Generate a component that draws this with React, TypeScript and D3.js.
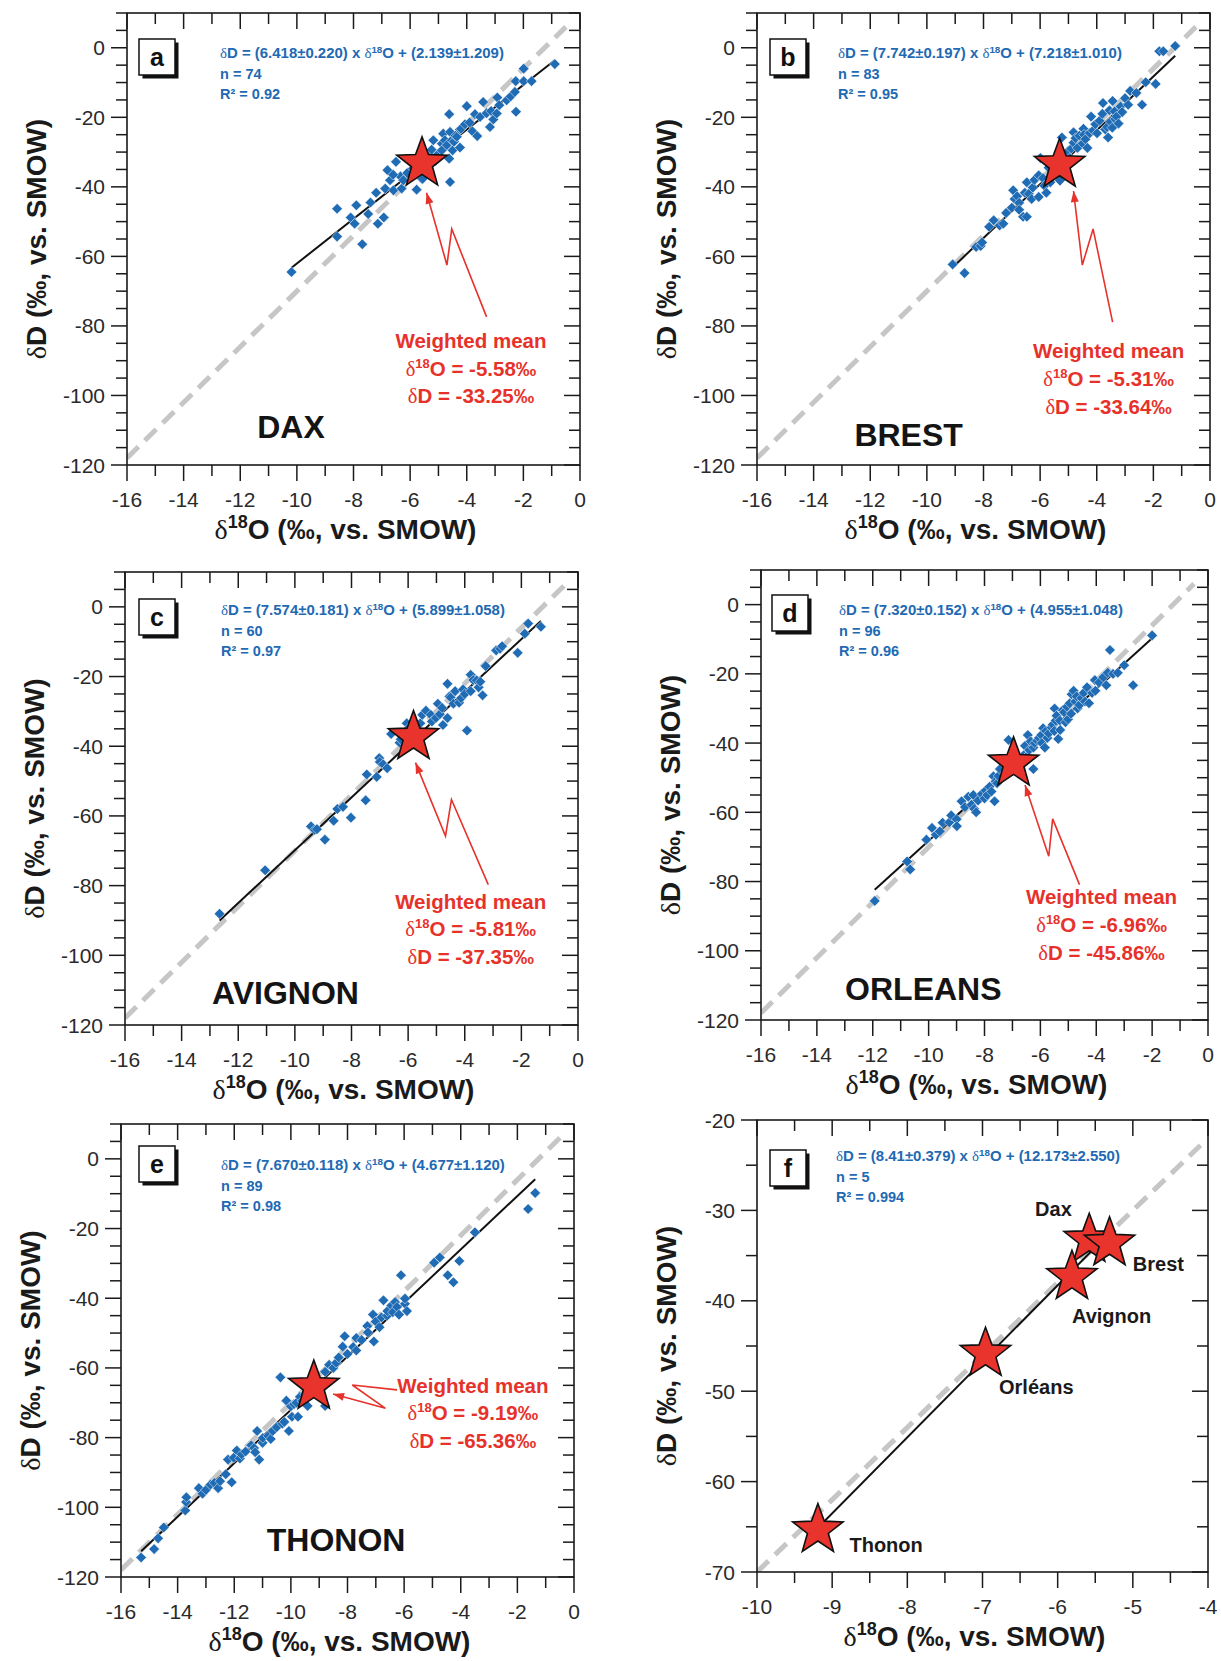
import React, { useRef, useEffect } from "react";
import * as d3 from "d3";

// ---- data (δ18O, δD) ----
const daxPoints = [
  [-10.19, -64.5], [-8.58, -46.3], [-8.58, -54.3], [-8.1, -48.8], [-7.96, -50.6], [-7.9, -45.3],
  [-7.69, -56.5], [-7.48, -47.8], [-7.14, -50.6], [-6.93, -48.8], [-7.2, -41.7], [-7.4, -44.5],
  [-6.8, -35.2], [-6.71, -38.1], [-6.88, -40.5], [-6.59, -41.0], [-6.34, -37.0], [-6.5, -32.8],
  [-6.3, -40.5], [-6.24, -38.1], [-6.1, -36.0], [-6.6, -36.5], [-5.9, -34.7], [-5.77, -40.8],
  [-5.7, -35.5], [-5.6, -37.6], [-5.56, -37.7], [-5.45, -35.5], [-5.3, -30.4], [-5.24, -29.3],
  [-5.18, -26.6], [-5.1, -32.5], [-5.0, -30.5], [-4.88, -27.6], [-4.88, -29.5], [-4.83, -24.7],
  [-4.77, -26.6], [-4.7, -28.0], [-4.62, -19.1], [-4.62, -31.9], [-4.59, -24.2], [-4.59, -38.6],
  [-4.53, -26.6], [-4.5, -29.5], [-4.45, -27.0], [-4.4, -25.3], [-4.35, -25.6], [-4.24, -23.5],
  [-4.24, -28.7], [-4.2, -23.3], [-4.06, -22.0], [-4.0, -16.8], [-3.9, -21.5], [-3.8, -24.0],
  [-3.71, -19.1], [-3.63, -25.4], [-3.53, -19.9], [-3.42, -15.6], [-3.3, -18.8], [-3.18, -22.8],
  [-3.14, -18.2], [-3.06, -20.6], [-2.94, -18.9], [-2.92, -14.3], [-2.85, -16.5], [-2.59, -15.1],
  [-2.45, -14.0], [-2.3, -12.7], [-2.26, -18.4], [-2.27, -9.6], [-1.99, -6.0], [-1.99, -9.6],
  [-1.71, -9.6], [-0.89, -4.7],
];

const brestPoints = [
  [-9.09, -62.3], [-8.67, -64.8], [-8.26, -57.3], [-8.1, -57.0], [-8.05, -56.0], [-7.8, -51.5],
  [-7.64, -49.6], [-7.43, -51.1], [-7.3, -50.6], [-7.2, -47.5], [-7.0, -46.0], [-6.95, -41.0],
  [-6.9, -43.5], [-6.81, -42.7], [-6.74, -44.6], [-6.74, -46.6], [-6.6, -48.6], [-6.47, -48.6],
  [-6.54, -41.7], [-6.47, -38.7], [-6.4, -42.0], [-6.3, -43.5], [-6.26, -40.2], [-6.2, -38.0],
  [-6.05, -42.9], [-6.05, -36.7], [-5.99, -31.7], [-5.9, -37.5], [-5.85, -39.7], [-5.78, -41.7],
  [-5.7, -34.5], [-5.64, -38.7], [-5.6, -36.5], [-5.5, -35.7], [-5.4, -33.5], [-5.3, -38.2],
  [-5.23, -25.8], [-5.23, -32.7], [-5.1, -30.5], [-5.02, -29.8], [-4.95, -31.7], [-4.9, -29.0],
  [-4.82, -27.3], [-4.82, -24.3], [-4.75, -26.0], [-4.68, -28.8], [-4.61, -25.3], [-4.5, -27.5],
  [-4.47, -23.3], [-4.45, -25.0], [-4.4, -26.3], [-4.33, -28.8], [-4.25, -24.5], [-4.2, -19.8],
  [-4.13, -23.8], [-4.05, -22.0], [-3.99, -24.6], [-3.9, -21.0], [-3.8, -19.0], [-3.78, -15.9],
  [-3.7, -23.5], [-3.64, -22.8], [-3.6, -25.8], [-3.55, -18.0], [-3.51, -21.3], [-3.45, -23.0],
  [-3.44, -15.3], [-3.37, -18.3], [-3.35, -20.5], [-3.3, -19.8], [-3.23, -21.8], [-3.16, -16.9],
  [-3.1, -18.5], [-3.0, -14.5], [-2.89, -16.4], [-2.82, -12.4], [-2.6, -13.0], [-2.4, -16.4],
  [-2.27, -9.9], [-1.92, -10.4], [-1.79, -1.0], [-1.65, -1.0], [-1.23, 0.5],
];

const avignonPoints = [
  [-12.66, -88.1], [-11.05, -75.6], [-9.43, -63.0], [-9.3, -64.0], [-9.22, -63.8], [-8.94, -66.8],
  [-8.63, -61.4], [-8.5, -58.0], [-8.3, -57.4], [-8.02, -60.5], [-7.5, -55.5], [-7.46, -48.1],
  [-7.11, -48.8], [-7.02, -43.4], [-7.0, -44.5], [-6.88, -45.2], [-6.74, -46.3], [-6.6, -36.5],
  [-6.3, -39.0], [-6.26, -38.0], [-6.05, -33.4], [-6.0, -35.0], [-5.85, -39.1], [-5.71, -36.5],
  [-5.57, -33.4], [-5.5, -31.0], [-5.37, -29.8], [-5.2, -31.0], [-5.16, -32.9], [-5.02, -31.9],
  [-4.95, -27.8], [-4.88, -30.8], [-4.8, -29.0], [-4.77, -33.9], [-4.61, -22.1], [-4.61, -31.9],
  [-4.54, -25.7], [-4.5, -26.0], [-4.4, -27.8], [-4.34, -24.2], [-4.2, -27.5], [-4.13, -26.2],
  [-4.06, -23.7], [-4.0, -25.0], [-3.92, -35.5], [-3.79, -19.5], [-3.79, -24.2], [-3.7, -21.0],
  [-3.58, -21.1], [-3.51, -23.1], [-3.45, -21.5], [-3.37, -25.4], [-3.26, -17.0], [-2.89, -12.5],
  [-2.75, -12.0], [-2.68, -11.3], [-2.13, -13.2], [-1.88, -7.7], [-1.76, -4.8], [-1.31, -5.7],
];

const orleansPoints = [
  [-11.93, -85.6], [-10.77, -74.2], [-10.66, -76.5], [-10.08, -67.9], [-9.88, -64.5], [-9.74, -66.5],
  [-9.6, -65.5], [-9.5, -63.0], [-9.26, -62.9], [-9.19, -60.9], [-9.0, -62.0], [-8.99, -64.0],
  [-8.82, -56.8], [-8.7, -58.5], [-8.58, -55.5], [-8.47, -57.8], [-8.4, -55.0], [-8.37, -59.0],
  [-8.3, -60.0], [-8.23, -56.6], [-8.1, -54.7], [-8.0, -56.0], [-7.96, -53.7], [-7.9, -55.0],
  [-7.82, -52.6], [-7.75, -54.0], [-7.68, -49.6], [-7.64, -56.8], [-7.6, -51.0], [-7.55, -51.6],
  [-7.5, -49.5], [-7.45, -47.5], [-7.3, -46.0], [-7.25, -48.5], [-7.14, -39.1], [-7.1, -45.0],
  [-6.9, -44.5], [-6.73, -47.5], [-6.6, -43.5], [-6.55, -40.8], [-6.5, -44.0], [-6.45, -37.7],
  [-6.4, -42.0], [-6.35, -39.5], [-6.25, -47.5], [-6.25, -41.3], [-6.2, -40.0], [-6.11, -39.3],
  [-6.05, -38.5], [-5.97, -37.7], [-5.95, -40.0], [-5.9, -35.7], [-5.84, -41.3], [-5.8, -36.5],
  [-5.75, -38.5], [-5.7, -37.2], [-5.6, -35.5], [-5.56, -34.7], [-5.5, -36.5], [-5.49, -30.0],
  [-5.45, -33.5], [-5.42, -32.1], [-5.36, -38.8], [-5.3, -33.5], [-5.29, -36.2], [-5.2, -30.5],
  [-5.15, -31.1], [-5.1, -34.0], [-5.05, -29.5], [-5.01, -33.1], [-4.95, -28.5], [-4.9, -31.5],
  [-4.88, -25.9], [-4.81, -24.9], [-4.75, -28.0], [-4.7, -26.5], [-4.67, -30.0], [-4.6, -29.0],
  [-4.53, -27.0], [-4.45, -25.5], [-4.4, -28.0], [-4.33, -23.9], [-4.26, -28.5], [-4.15, -25.5],
  [-4.05, -21.8], [-4.03, -24.9], [-3.9, -22.5], [-3.75, -21.0], [-3.64, -23.3], [-3.59, -19.7],
  [-3.51, -13.1], [-3.4, -20.0], [-3.23, -19.7], [-3.0, -17.5], [-2.68, -23.3], [-2.0, -8.9],
];

const thononPoints = [
  [-15.29, -114.4], [-14.83, -112.0], [-14.69, -108.9], [-14.49, -105.8], [-13.73, -100.9], [-13.7, -98.5],
  [-13.69, -97.1], [-13.25, -94.5], [-13.12, -96.1], [-13.0, -95.0], [-12.84, -93.5], [-12.7, -93.0],
  [-12.57, -94.5], [-12.5, -92.5], [-12.3, -90.5], [-12.22, -86.3], [-12.09, -92.8], [-12.02, -85.8],
  [-11.91, -83.7], [-11.8, -86.0], [-11.74, -84.8], [-11.6, -84.0], [-11.4, -82.2], [-11.3, -83.0],
  [-11.26, -84.2], [-11.19, -78.1], [-11.12, -86.3], [-11.0, -81.5], [-10.99, -80.1], [-10.8, -79.5],
  [-10.71, -80.4], [-10.64, -78.1], [-10.5, -77.0], [-10.37, -62.7], [-10.3, -76.0], [-10.23, -75.5],
  [-10.16, -69.4], [-10.07, -78.1], [-10.0, -71.0], [-9.96, -74.0], [-9.89, -70.4], [-9.8, -70.0],
  [-9.75, -74.0], [-9.68, -68.3], [-9.6, -69.5], [-9.5, -67.5], [-9.41, -70.9], [-9.0, -66.0],
  [-8.9, -64.0], [-8.79, -70.9], [-8.79, -61.1], [-8.65, -59.1], [-8.5, -60.0], [-8.4, -58.5],
  [-8.31, -57.0], [-8.17, -53.9], [-8.1, -50.9], [-8.0, -56.0], [-7.8, -54.0], [-7.69, -55.0],
  [-7.69, -51.4], [-7.5, -52.0], [-7.3, -48.0], [-7.28, -49.8], [-7.1, -44.7], [-7.07, -52.4],
  [-7.0, -46.7], [-6.87, -48.3], [-6.8, -45.5], [-6.73, -40.6], [-6.6, -45.0], [-6.59, -43.7],
  [-6.45, -42.1], [-6.4, -44.0], [-6.32, -41.1], [-6.25, -42.5], [-6.18, -44.7], [-6.11, -33.4],
  [-5.97, -41.6], [-5.97, -40.1], [-5.9, -43.7], [-4.94, -29.8], [-4.74, -28.3], [-4.46, -33.4],
  [-4.26, -35.4], [-4.05, -29.3], [-3.5, -21.1], [-1.62, -14.4], [-1.37, -9.8],
];

const stationNames = ["Dax", "Brest", "Avignon", "Orléans", "Thonon"];
const cityTitles = ["DAX", "BREST", "AVIGNON", "ORLEANS", "THONON"];
const meanO = [-5.58, -5.31, -5.81, -6.96, -9.19];
const meanD = [-33.25, -33.64, -37.35, -45.86, -65.36];

const panelLetters = ["a", "b", "c", "d", "e", "f"];
const slopes = [6.418, 7.742, 7.574, 7.32, 7.67, 8.41];
const slopeLabels = ["6.418", "7.742", "7.574", "7.320", "7.670", "8.41"];
const slopeErrors = ["0.220", "0.197", "0.181", "0.152", "0.118", "0.379"];
const intercepts = [2.139, 7.218, 5.899, 4.955, 4.677, 12.173];
const interceptLabels = ["2.139", "7.218", "5.899", "4.955", "4.677", "12.173"];
const interceptErrors = ["1.209", "1.010", "1.058", "1.048", "1.120", "2.550"];
const nValues = [74, 83, 60, 96, 89, 5];
const r2Values = ["0.92", "0.95", "0.97", "0.96", "0.98", "0.994"];

// global meteoric water line (reference)
const gmwlSlope = 8;
const gmwlIntercept = 10;
const gmwlRanges = [[-16, -0.5], [-16, -0.5], [-16, -0.5], [-16, -0.5], [-16, -0.4], [-10, -4.1]];

// annotation anchors (data units)
const meanTextAt = [[-3.85, -86.3], [-3.58, -89.3], [-3.79, -86.6], [-3.81, -86.6], [-3.57, -67.1]];
const cityTitleAt = [[-11.4, -112.3], [-12.56, -114.6], [-12.93, -114.1], [-12.99, -114.3], [-10.85, -112.5]];
const arrowPaths = [
  [[-3.3, -77.4], [-4.53, -52.1], [-4.7, -62.5], [-5.42, -41.7]],
  [[-3.44, -78.9], [-4.13, -52.1], [-4.51, -62.5], [-4.82, -41.2]],
  [[-3.17, -79.7], [-4.47, -55.3], [-4.68, -65.8], [-5.74, -44.7]],
  [[-4.6, -80.9], [-5.56, -61.9], [-5.7, -72.7], [-6.55, -52.1]],
  [[-6.25, -66.3], [-7.83, -64.9], [-6.66, -71.6], [-8.51, -67.5]],
];
const stationLabelAt = [[-6.3, -30.67], [-5.0, -36.7], [-5.81, -42.5], [-6.78, -50.3], [-8.77, -67.8]];

// layout (pixels)
const frames = [
  { x: 127, y: 13, w: 453, h: 452 },
  { x: 757, y: 13, w: 453, h: 452 },
  { x: 125, y: 572, w: 453, h: 453 },
  { x: 761, y: 570, w: 447, h: 450 },
  { x: 121, y: 1124, w: 453, h: 453 },
  { x: 757, y: 1120, w: 451, h: 452 },
];
const boxOffsets = [[12, 26], [13, 26], [14, 27], [11, 25], [18, 22], [13, 30]];
const eqOffsets = [[93, 45], [81, 45], [96, 43], [78, 45], [100, 46], [79, 41]];

const SANS = "'Liberation Sans', Arial, Helvetica, sans-serif";
const SERIF = "'Liberation Serif', 'Times New Roman', serif";
const BLUE = "#2169b3";
const RED = "#e6322b";

const starPath = (cx: number, cy: number, R: number, r: number) => {
  const pts: [number, number][] = d3.range(10).map((k) => {
    const a = -Math.PI / 2 + (k * Math.PI) / 5;
    const rad = k % 2 === 0 ? R : r;
    return [cx + rad * Math.cos(a), cy + rad * Math.sin(a)];
  });
  return "M" + pts.map((p) => p.join(",")).join("L") + "Z";
};

const App = () => {
  const chartRef = useRef<SVGSVGElement>(null);

  useEffect(() => {
    const svg = d3.select(chartRef.current);
    svg.selectAll("*").remove();
    const defs = svg.append("defs");
    const cityPoints = [daxPoints, brestPoints, avignonPoints, orleansPoints, thononPoints];
    const diamondType = (d3 as any).symbolDiamond2;

    panelLetters.forEach((letter, i) => {
      const fr = frames[i];
      const summary = i === 5;
      const x = d3.scaleLinear().domain(summary ? [-10, -4] : [-16, 0]).range([fr.x, fr.x + fr.w]);
      const y = d3.scaleLinear().domain(summary ? [-70, -20] : [-120, 10]).range([fr.y + fr.h, fr.y]);
      const g = svg.append("g");

      defs.append("clipPath").attr("id", `clip-${letter}`)
        .append("rect").attr("x", fr.x).attr("y", fr.y).attr("width", fr.w).attr("height", fr.h);
      const plot = g.append("g").attr("clip-path", `url(#clip-${letter})`);

      // GMWL dashed line
      const gr = gmwlRanges[i];
      plot.append("line")
        .attr("x1", x(gr[0])).attr("y1", y(gmwlSlope * gr[0] + gmwlIntercept))
        .attr("x2", x(gr[1])).attr("y2", y(gmwlSlope * gr[1] + gmwlIntercept))
        .attr("stroke", "#c6c6c6").attr("stroke-width", 5).attr("stroke-dasharray", "16 9");

      // regression line
      const xs = summary ? meanO : cityPoints[i].map((d) => d[0]);
      const [xmin, xmax] = d3.extent(xs) as [number, number];
      plot.append("line")
        .attr("x1", x(xmin)).attr("y1", y(slopes[i] * xmin + intercepts[i]))
        .attr("x2", x(xmax)).attr("y2", y(slopes[i] * xmax + intercepts[i]))
        .attr("stroke", "#111").attr("stroke-width", 2);

      if (!summary) {
        const sym = d3.symbol(diamondType || d3.symbolSquare).size(diamondType ? 72 : 56)();
        plot.selectAll("path.pt").data(cityPoints[i]).join("path")
          .attr("class", "pt")
          .attr("d", sym)
          .attr("transform", (d) => `translate(${x(d[0])},${y(d[1])})${diamondType ? "" : " rotate(45)"}`)
          .attr("fill", "#1f6bb4").attr("stroke", "#ffffff").attr("stroke-width", 0.5);

        // arrow
        const ap = arrowPaths[i].map((p) => [x(p[0]), y(p[1])] as [number, number]);
        g.append("path").attr("d", d3.line()(ap)).attr("fill", "none")
          .attr("stroke", RED).attr("stroke-width", 1.6);
        const tip = ap[ap.length - 1];
        const prev = ap[ap.length - 2];
        const ang = Math.atan2(tip[1] - prev[1], tip[0] - prev[0]);
        const L = 11, W = 4;
        const bx = tip[0] - L * Math.cos(ang), by = tip[1] - L * Math.sin(ang);
        g.append("path")
          .attr("d", `M${tip[0]},${tip[1]}L${bx - W * Math.sin(ang)},${by + W * Math.cos(ang)}L${bx + W * Math.sin(ang)},${by - W * Math.cos(ang)}Z`)
          .attr("fill", RED);

        // star
        g.append("path").attr("d", starPath(x(meanO[i]), y(meanD[i]), 26.5, 11))
          .attr("fill", "#e8342c").attr("stroke", "#111").attr("stroke-width", 1.6);

        // weighted mean text
        const mx = x(meanTextAt[i][0]), my = y(meanTextAt[i][1]);
        const mt = g.append("g").attr("font-family", SANS).attr("font-weight", "bold")
          .attr("font-size", 20.5).attr("fill", RED).attr("text-anchor", "middle");
        mt.append("text").attr("x", mx).attr("y", my).text("Weighted mean");
        const l2 = mt.append("text").attr("x", mx).attr("y", my + 27.8);
        l2.append("tspan").attr("font-family", SERIF).attr("font-weight", "normal").text("δ");
        l2.append("tspan").attr("font-size", 13).attr("dy", -8).text("18");
        l2.append("tspan").attr("dy", 8).text(`O = ${meanO[i].toFixed(2)}‰`);
        const l3 = mt.append("text").attr("x", mx).attr("y", my + 55.6);
        l3.append("tspan").attr("font-family", SERIF).attr("font-weight", "normal").text("δ");
        l3.append("tspan").text(`D = ${meanD[i].toFixed(2)}‰`);

        // city title
        g.append("text").attr("x", x(cityTitleAt[i][0])).attr("y", y(cityTitleAt[i][1]))
          .attr("font-family", SANS).attr("font-weight", "bold").attr("font-size", 32)
          .attr("fill", "#141414").text(cityTitles[i]);
      } else {
        meanO.forEach((mo, k) => {
          g.append("path").attr("d", starPath(x(mo), y(meanD[k]), 26.5, 11))
            .attr("fill", "#e8342c").attr("stroke", "#111").attr("stroke-width", 1.6);
        });
        stationNames.forEach((nm, k) => {
          g.append("text").attr("x", x(stationLabelAt[k][0])).attr("y", y(stationLabelAt[k][1]))
            .attr("font-family", SANS).attr("font-weight", "bold").attr("font-size", 20)
            .attr("fill", "#1a1a1a").text(nm);
        });
      }

      // frame
      g.append("rect").attr("x", fr.x).attr("y", fr.y).attr("width", fr.w).attr("height", fr.h)
        .attr("fill", "none").attr("stroke", "#1a1a1a").attr("stroke-width", 1.6);

      // ticks
      const xTicks = summary ? d3.range(-10, -3.99, 0.5) : d3.range(-16, 0.01, 1);
      const yTicks = summary ? d3.range(-70, -19.99, 5) : d3.range(-120, 10.01, 5);
      const xMajor = (v: number) => (summary ? Math.abs(v - Math.round(v)) < 1e-6 : Math.round(v) % 2 === 0);
      const yMajor = (v: number) => (summary ? Math.round(v) % 10 === 0 : Math.round(v) % 20 === 0);
      const tg = g.append("g").attr("stroke", "#1a1a1a").attr("stroke-width", 1.5);
      const bottom = fr.y + fr.h, right = fr.x + fr.w;
      xTicks.forEach((v) => {
        const len = xMajor(v) ? 16 : 11;
        tg.append("line").attr("x1", x(v)).attr("x2", x(v)).attr("y1", bottom).attr("y2", bottom + len);
        tg.append("line").attr("x1", x(v)).attr("x2", x(v)).attr("y1", fr.y).attr("y2", fr.y + len);
      });
      yTicks.forEach((v) => {
        const len = yMajor(v) ? 16 : 11;
        tg.append("line").attr("x1", fr.x - len).attr("x2", fr.x).attr("y1", y(v)).attr("y2", y(v));
        tg.append("line").attr("x1", right - len).attr("x2", right).attr("y1", y(v)).attr("y2", y(v));
      });
      const lg = g.append("g").attr("font-family", SANS).attr("font-size", 21).attr("fill", "#2a2a2a");
      xTicks.filter(xMajor).forEach((v) => {
        lg.append("text").attr("x", x(v)).attr("y", bottom + 42).attr("text-anchor", "middle").text(`${Math.round(v)}`);
      });
      yTicks.filter(yMajor).forEach((v) => {
        lg.append("text").attr("x", fr.x - 22).attr("y", y(v)).attr("dy", "0.36em")
          .attr("text-anchor", "end").text(`${Math.round(v)}`);
      });

      // axis titles
      const xt = g.append("text").attr("x", fr.x + fr.w / 2 - 8).attr("y", bottom + 74)
        .attr("text-anchor", "middle").attr("font-family", SANS).attr("font-weight", "bold")
        .attr("font-size", 28).attr("fill", "#1a1a1a");
      xt.append("tspan").attr("font-family", SERIF).attr("font-weight", "normal").text("δ");
      xt.append("tspan").attr("font-size", 18).attr("dy", -11).text("18");
      xt.append("tspan").attr("dy", 11).text("O (‰, vs. SMOW)");
      const cy = fr.y + fr.h / 2;
      const yt = g.append("text").attr("transform", `translate(${fr.x - 81},${cy}) rotate(-90)`)
        .attr("text-anchor", "middle").attr("font-family", SANS).attr("font-weight", "bold")
        .attr("font-size", 28).attr("fill", "#1a1a1a");
      yt.append("tspan").attr("font-family", SERIF).attr("font-weight", "normal").text("δ");
      yt.append("tspan").text("D (‰, vs. SMOW)");

      // panel letter box
      const bx0 = fr.x + boxOffsets[i][0], by0 = fr.y + boxOffsets[i][1];
      g.append("rect").attr("x", bx0 + 3.5).attr("y", by0 + 3.5).attr("width", 36).attr("height", 36).attr("fill", "#111");
      g.append("rect").attr("x", bx0).attr("y", by0).attr("width", 36).attr("height", 36)
        .attr("fill", "#fff").attr("stroke", "#111").attr("stroke-width", 1.5);
      g.append("text").attr("x", bx0 + 18).attr("y", by0 + 27).attr("text-anchor", "middle")
        .attr("font-family", SANS).attr("font-weight", "bold").attr("font-size", 25).attr("fill", "#111").text(letter);

      // regression equation
      const ex = fr.x + eqOffsets[i][0], ey = fr.y + eqOffsets[i][1];
      const eg = g.append("g").attr("font-family", SANS).attr("font-weight", "bold")
        .attr("font-size", 14.5).attr("fill", BLUE).style("white-space", "pre");
      const eq = eg.append("text").attr("x", ex).attr("y", ey);
      eq.append("tspan").attr("font-family", SERIF).attr("font-weight", "normal").text("δ");
      eq.append("tspan").text(`D = (${slopeLabels[i]}±${slopeErrors[i]}) x `);
      eq.append("tspan").attr("font-family", SERIF).attr("font-weight", "normal").text("δ");
      eq.append("tspan").attr("font-size", 9.5).attr("dy", -5).text("18");
      eq.append("tspan").attr("dy", 5).text(`O + (${interceptLabels[i]}±${interceptErrors[i]})`);
      const wEq = (eq.node() as SVGTextElement).getComputedTextLength();
      if (wEq > 0) eq.attr("transform", `translate(${ex},0) scale(${284 / wEq},1) translate(${-ex},0)`);
      eg.append("text").attr("x", ex).attr("y", ey + 20.5).text(`n = ${nValues[i]}`);
      eg.append("text").attr("x", ex).attr("y", ey + 41).text(`R² = ${r2Values[i]}`);
    });
  }, []);

  return (
    <div style={{ position: "absolute", left: 0, top: 0, background: "#fff" }}>
      <svg ref={chartRef} width={1221} height={1661} style={{ display: "block" }} />
    </div>
  );
};

export default App;
